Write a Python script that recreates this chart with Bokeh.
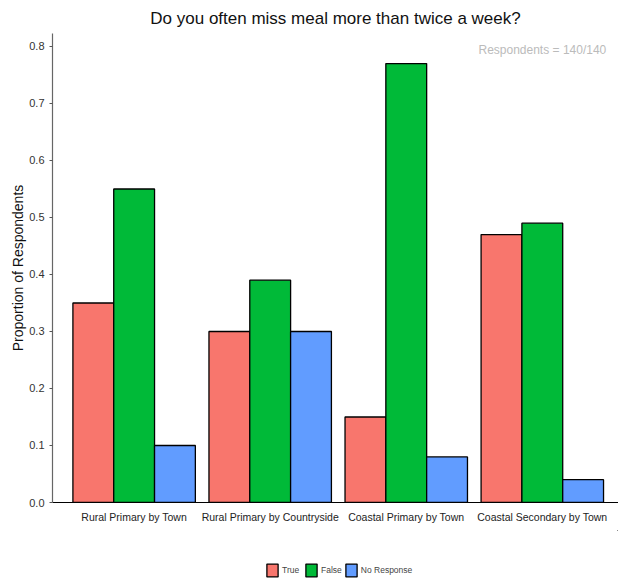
from bokeh.plotting import figure
from bokeh.layouts import column
from bokeh.models import (Range1d, FixedTicker, PrintfTickFormatter, Legend, LegendItem,
                          Label, ColumnDataSource)
from bokeh.embed import file_html
from bokeh.resources import INLINE

categories = ["Rural Primary by Town", "Rural Primary by Countryside",
              "Coastal Primary by Town", "Coastal Secondary by Town"]
series = ["True", "False", "No Response"]
true_vals = [0.35, 0.30, 0.15, 0.47]
false_vals = [0.55, 0.39, 0.77, 0.49]
nr_vals = [0.10, 0.30, 0.08, 0.04]
colors = ["#F8766D", "#00BA38", "#619CFF"]
y_ticks = [0.0, 0.1, 0.2, 0.3, 0.4, 0.5, 0.6, 0.7, 0.8]

FONT = "Liberation Sans"
dodge_w = 0.9 / 3

p = figure(width=618, height=530, output_backend="svg", toolbar_location=None,
           x_range=Range1d(0.4, 4.56), y_range=Range1d(0, 0.8228),
           min_border_left=52, min_border_right=0, min_border_top=33,
           min_border_bottom=28,
           title="Do you often miss meal more than twice a week?")

p.title.text_font = FONT
p.title.text_font_size = "17px"
p.title.text_font_style = "normal"
p.title.align = "center"
p.title.text_color = "#111111"
p.title.standoff = 12

# legend-only strip below the chart
p2 = figure(width=618, height=49, output_backend="svg", toolbar_location=None,
            x_range=Range1d(-10, -9), y_range=Range1d(-10, -9),
            x_axis_location=None, y_axis_location=None,
            min_border_left=0, min_border_right=0, min_border_top=0, min_border_bottom=0)
p2.xgrid.visible = False
p2.ygrid.visible = False
p2.outline_line_color = None

items = []
for i, (name, vals) in enumerate(zip(series, [true_vals, false_vals, nr_vals])):
    xs = [k + 1 + (i - 1) * dodge_w for k in range(len(categories))]
    src = ColumnDataSource(dict(x=xs, top=vals))
    p.vbar(x="x", top="top", width=dodge_w, bottom=0, source=src,
           fill_color=colors[i], line_color="black", line_width=1.3)
    r2 = p2.vbar(x="x", top="top", width=dodge_w, bottom=0, source=src,
                 fill_color=colors[i], line_color="black", line_width=1.3)
    items.append(LegendItem(label=name, renderers=[r2]))

p.xgrid.visible = False
p.ygrid.visible = False
p.outline_line_color = None

p.xaxis.ticker = FixedTicker(ticks=[1, 2, 3, 4])
p.xaxis.major_label_overrides = {k + 1: c for k, c in enumerate(categories)}
p.xaxis.major_tick_line_color = None
p.xaxis.minor_tick_line_color = None
p.xaxis.axis_line_color = "black"
p.xaxis.axis_line_width = 1.2
p.xaxis.major_label_text_font = FONT
p.xaxis.major_label_text_font_size = "10.5px"
p.xaxis.major_label_text_color = "#222222"
p.xaxis.major_label_standoff = 2

p.yaxis.ticker = FixedTicker(ticks=y_ticks)
p.yaxis.formatter = PrintfTickFormatter(format="%.1f")
p.yaxis.minor_tick_line_color = None
p.yaxis.major_tick_out = 3
p.yaxis.major_tick_in = 0
p.yaxis.major_tick_line_color = "#555555"
p.yaxis.axis_line_color = "#666666"
p.yaxis.axis_line_width = 1.2
p.yaxis.major_label_text_font = FONT
p.yaxis.major_label_text_font_size = "11px"
p.yaxis.major_label_text_color = "#333333"
p.yaxis.axis_label = "Proportion of Respondents"
p.yaxis.axis_label_text_font = FONT
p.yaxis.axis_label_text_font_size = "14px"
p.yaxis.axis_label_text_font_style = "normal"
p.yaxis.axis_label_text_color = "#111111"
p.yaxis.axis_label_standoff = 0

p.add_layout(Label(x=4.47, y=0.793, text="Respondents = 140/140", text_align="right",
                   text_baseline="middle", text_font=FONT, text_font_size="12px",
                   text_color="#BBBBBB"))

legend = Legend(items=items, orientation="horizontal", location=(213, 1),
                label_text_font=FONT, label_text_font_size="8.5px",
                glyph_width=14, glyph_height=16, label_standoff=3, spacing=2,
                border_line_color=None, background_fill_alpha=0,
                margin=0, padding=2)
p2.add_layout(legend, "center")

layout = column(p, p2, spacing=0)
open("out.html", "w").write(file_html(layout, INLINE))
